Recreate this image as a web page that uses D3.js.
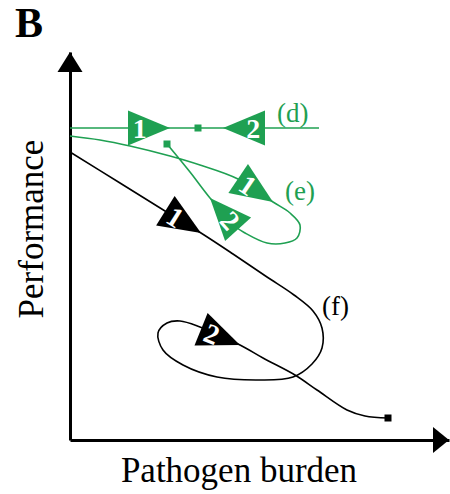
<!DOCTYPE html>
<html>
<head>
<meta charset="utf-8">
<script src="https://cdn.jsdelivr.net/npm/d3@7"></script>
<style>
  html, body { margin: 0; padding: 0; background: #fff; }
  svg { display: block; }
  text { font-family: "Liberation Serif", "Times New Roman", serif; }
</style>
</head>
<body>
<svg id="chart" width="450" height="494"></svg>
<script>
// ---- data (arbitrary conceptual units: pathogen burden x, performance y) ----
const curveD = [[0, 312], [249, 312]];
const curveE = [[0, 304], [30, 300], [60, 294], [100, 284], [130, 275], [168, 261], [203, 238],
  [220, 227], [230, 215], [227, 202], [215, 197], [197, 197], [175, 207], [166, 213],
  [140, 242], [120, 268], [97, 296]];
const curveF = [[0, 288], [50, 257], [95, 229], [131, 207], [163, 186], [197, 163], [224, 145],
  [243, 129], [252, 112], [252, 92], [242, 76], [223, 63], [190, 60], [147, 63], [113, 75],
  [93, 90], [88, 107], [97, 117], [110, 119], [130, 113], [170, 95], [193, 82], [225, 65],
  [247, 50], [277, 30], [295, 24], [318, 22]];
// arrowhead markers: tip position on the trajectory, heading (deg), label
const markers = [
  { series: "d", x: 100, y: 312, heading: 0, label: "1" },
  { series: "d", x: 153, y: 312, heading: 180, label: "2" },
  { series: "e", x: 203, y: 238, heading: 34, label: "1" },
  { series: "e", x: 140, y: 242, heading: -132, label: "2" },
  { series: "f", x: 131, y: 207, heading: 32, label: "1" },
  { series: "f", x: 170, y: 95, heading: 22, label: "2" }
];
// equilibrium / end points
const endPoints = [
  { series: "d", x: 128, y: 312 },
  { series: "e", x: 97, y: 296 },
  { series: "f", x: 318, y: 22 }
];
const seriesLabels = [
  { series: "d", text: "(d)", x: 207, y: 318 },
  { series: "e", text: "(e)", x: 215, y: 240 },
  { series: "f", text: "(f)", x: 252, y: 125 }
];
const panelLabel = "B";
const xTitle = "Pathogen burden";
const yTitle = "Performance";

// ---- drawing ----
const green = "#1fa052";
const color = s => (s === "f" ? "#000" : green);

const svg = d3.select("#chart");
const x = d3.scaleLinear().domain([0, 379]).range([70, 449]);
const y = d3.scaleLinear().domain([0, 388]).range([440, 52]);

// axes (no ticks) with arrowheads
const gx = svg.append("g").attr("transform", `translate(0,${y(0)})`)
  .call(d3.axisBottom(x).tickValues([]).tickSizeOuter(0));
const gy = svg.append("g").attr("transform", `translate(${x(0)},0)`)
  .call(d3.axisLeft(y).tickValues([]).tickSizeOuter(0));
[gx, gy].forEach(g => g.select(".domain").attr("stroke", "#000").attr("stroke-width", 3));

const yTop = y.range()[1], xRight = x.range()[1];
svg.append("path")
  .attr("d", `M${x(0)},${yTop} L${x(0) - 12.5},${yTop + 20} L${x(0) + 12.5},${yTop + 20} Z`)
  .attr("fill", "#000");
svg.append("path")
  .attr("d", `M${xRight},${y(0)} L${xRight - 16},${y(0) - 13} L${xRight - 16},${y(0) + 13} Z`)
  .attr("fill", "#000");

// trajectories
const line = d3.line().x(d => x(d[0])).y(d => y(d[1])).curve(d3.curveCatmullRom.alpha(0.5));
[["d", curveD], ["e", curveE], ["f", curveF]].forEach(([s, pts]) => {
  svg.append("path").attr("d", line(pts)).attr("fill", "none")
    .attr("stroke", color(s)).attr("stroke-width", 1.6);
});

// end squares
svg.selectAll("rect.end").data(endPoints).join("rect")
  .attr("class", "end")
  .attr("x", d => x(d.x) - 3.5).attr("y", d => y(d.y) - 3.5)
  .attr("width", 7).attr("height", 7)
  .attr("fill", d => color(d.series));

// arrowhead markers
const L = 42, W = 17.5;
const mg = svg.selectAll("g.marker").data(markers).join("g")
  .attr("class", "marker")
  .attr("transform", d => `translate(${x(d.x)},${y(d.y)}) rotate(${d.heading})`);
mg.append("path")
  .attr("d", `M0,0 L${-L},${-W} L${-L},${W} Z`)
  .attr("fill", d => color(d.series));
mg.append("text")
  .attr("transform", d => `translate(${-0.72 * L},0) rotate(${Math.abs(d.heading) > 90 ? 180 : 0})`)
  .attr("text-anchor", "middle")
  .attr("dy", "0.35em")
  .attr("fill", "#fff")
  .attr("font-weight", "bold")
  .attr("font-size", 28)
  .text(d => d.label);

// series labels
svg.selectAll("text.slabel").data(seriesLabels).join("text")
  .attr("class", "slabel")
  .attr("x", d => x(d.x)).attr("y", d => y(d.y))
  .attr("fill", d => color(d.series))
  .attr("font-size", 27)
  .text(d => d.text);

// titles
svg.append("text").attr("x", 15).attr("y", 37)
  .attr("font-size", 42).attr("font-weight", "bold").text(panelLabel);
svg.append("text").attr("x", 239).attr("y", 482)
  .attr("text-anchor", "middle").attr("font-size", 35).text(xTitle);
svg.append("text").attr("transform", "translate(43,229) rotate(-90)")
  .attr("text-anchor", "middle").attr("font-size", 35).text(yTitle);
</script>
</body>
</html>
